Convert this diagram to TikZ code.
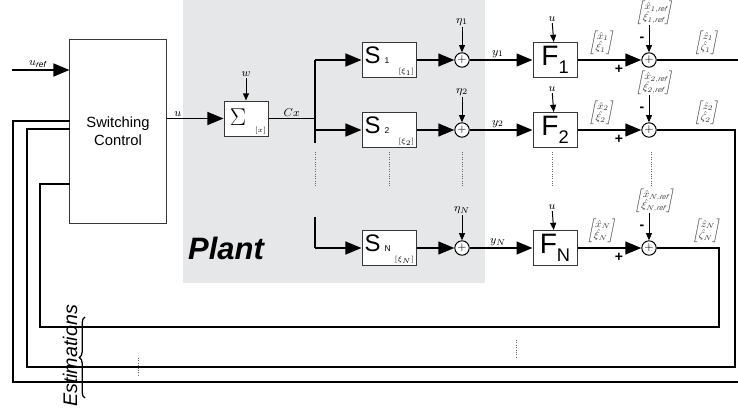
\documentclass[tikz,border=0pt]{standalone}
\usepackage{amsmath}
\usepackage{fontspec}
\setmainfont{Liberation Sans}
\usetikzlibrary{arrows.meta,positioning,calc,decorations.pathreplacing}
\definecolor{plantbg}{RGB}{230,231,232}
\definecolor{boxline}{RGB}{55,55,55}
\tikzset{blk/.style={draw=boxline,fill=white,line width=.7pt,inner sep=0pt},
  sum/.style={circle,draw=black,fill=white,line width=.7pt,inner sep=0pt,minimum size=.36cm,font=\footnotesize},
  sig/.style={-{Triangle[length=4mm,width=3.2mm]},line width=1.4pt},
  wire/.style={line width=1.4pt},
  tick/.style={-{Triangle[length=1.8mm,width=1.5mm]},line width=.7pt},
  dots/.style={densely dotted,line width=.7pt,black!60},
  lbl/.style={font=\footnotesize,inner sep=1pt},
  vec/.style={font=\scriptsize,inner sep=0pt,xslant=.2,text=black!75}}
\newcommand{\stk}[2]{$\left[\begin{array}{@{}c@{}}#1\\[-1pt]#2\end{array}\right]$}

\begin{document}
\begin{tikzpicture}[x=.025cm,y=-.025cm]
\useasboundingbox (0,0) rectangle (738,414);
\fill[plantbg] (183,-5) rectangle (485,283);
\node[font=\fontsize{22}{22}\selectfont\bfseries\itshape] (plant) at (226,248) {Plant};

% controller and sum
\node[blk,minimum width=2.4cm,minimum height=4.575cm,align=center,font=\fontsize{10.5}{12.5}\selectfont] (ctrl) at (118,131.5) {Switching\\Control};
\coordinate (uref) at (12,70);
\draw[sig] (uref) -- node[lbl,above,pos=.45]{$u_{\mathit{ref}}$} (uref -| ctrl.west);
\node[blk,minimum width=1.1cm,minimum height=.875cm] (sigma) at (246,118.5) {};
\node[font=\fontsize{18}{18}\selectfont,inner sep=0pt] at ([xshift=-.2cm,yshift=.04cm]sigma.center) {$\Sigma$};
\node[font=\tiny,anchor=south east,inner sep=1.5pt] at (sigma.south east) {$[x]$};
\draw[sig] (ctrl.east |- sigma) -- node[lbl,above,pos=.2]{$u$} (sigma);
\node[lbl] (w) at (246,74) {$w$};
\draw[tick] (w) -- (sigma);
\coordinate (bus) at (315,118.5);
\coordinate (busbot) at (315,143);
\coordinate (brtop) at (315,217);
\draw[wire] (sigma) -- node[lbl,above]{$Cx$} (bus);

% branches
\foreach \i/\y/\s in {1/60/1,2/130/2,3/248/N}{
  \coordinate (br\i) at (315,\y);
  \node[blk,minimum width=1.35cm,minimum height=.875cm] (s\i) at (389,\y) {};
  \node[font=\fontsize{17}{17}\selectfont,anchor=base west,inner sep=0pt] at ([xshift=.07cm,yshift=-.08cm]s\i.west) {S\,{\fontsize{6}{6}\selectfont\s}};
  \node[font=\tiny,anchor=south east,inner sep=1.5pt] at (s\i.south east) {$[\xi_{\s}]$};
  \node[sum] (a\i) at (462,\y) {$+$};
  \node[lbl] (eta\i) at (462,{\y-38}) {$\eta_{\s}$};
  \node[blk,minimum width=1.1cm,minimum height=.875cm] (f\i) at (555,\y) {};
  \node[font=\fontsize{20}{20}\selectfont,inner sep=0pt] at (f\i) {F\raisebox{-.3em}{\fontsize{13}{13}\selectfont\s}};
  \node[lbl] (uf\i) at (552,{\y-41}) {$u$};
  \node[sum] (b\i) at (649,\y) {$+$};
  \node[vec] (ref\i) at (655,{\y-47}) {\stk{\hat{x}_{\s,\mathit{ref}}}{\hat{\xi}_{\s,\mathit{ref}}}};
  \node[vec] (est\i) at (602,{\y-17}) {\stk{\hat{x}_{\s}}{\hat{\xi}_{\s}}};
  \node[vec] (zet\i) at (707,{\y-17}) {\stk{\hat{z}_{\s}}{\hat{\zeta}_{\s}}};
  \draw[sig] (br\i) -- (s\i);
  \draw[tick] (eta\i) -- (a\i);
  \draw[sig] (s\i) -- (a\i);
  \draw[sig] (a\i) -- node[lbl,above,pos=.45]{$y_{\s}$} (f\i);
  \draw[tick] (uf\i) -- (f\i);
  \draw[sig] (f\i) -- (b\i);
  \draw[tick] (ref\i.south -| b\i) -- (b\i);
  \node[font=\bfseries] at (642,{\y-21}) {-};
  \node[font=\bfseries] at (619,{\y+9}) {+};
}
\draw[wire] (br1) -- (busbot);
\draw[wire] (brtop) -- (br3);
\foreach \x in {315,389,462,552,651} \draw[dots] (\x,152) -- (\x,186);

% estimations fed back
\coordinate (in1) at (70,121);
\coordinate (in2) at (70,129);
\coordinate (in3) at (70,184);
\coordinate (out1) at (738,60);
\coordinate (ret1) at (738,382);
\draw[wire] (b1) -- (out1);
\draw[wire] (ret1) -| (13,121) -- (in1);
\draw[wire] (b2) -| (735,367) -| (27,129) -- (in2);
\draw[wire] (b3) -| (719,327) -| (40,184) -- (in3);
\draw[dots] (138,358) -- (138,377);
\draw[dots] (516,340) -- (516,358);
\node[rotate=90,font=\fontsize{14}{14}\selectfont\itshape] (estim) at (70,356) {Estimations};
\draw[decorate,decoration={brace,amplitude=4pt},line width=.9pt] (85,398) -- (85,317);
\end{tikzpicture}
\end{document}
